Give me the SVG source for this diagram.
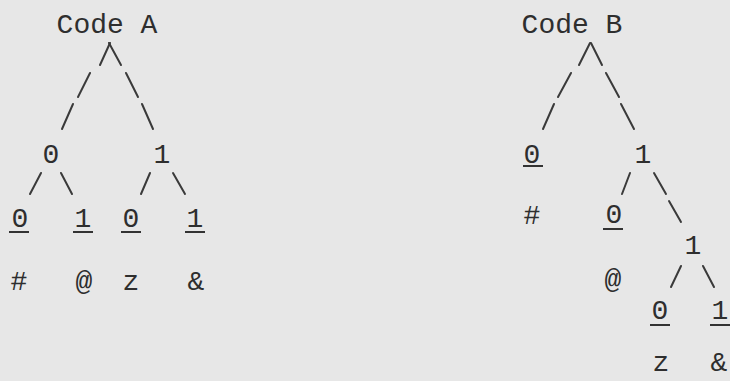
<svg xmlns="http://www.w3.org/2000/svg" width="730" height="381" viewBox="0 0 730 381">
<style>
text{font-family:"Liberation Mono","Courier New",monospace;font-size:28px;fill:#2e2e2e;text-anchor:middle}
.u{stroke:#333;stroke-width:2}
#connectors line{stroke:#3a3a3a;stroke-width:2;stroke-linecap:round}
</style>
<rect width="730" height="381" fill="#e7e7e7"/>
<g id="connectors">
<line x1="110" y1="43" x2="100" y2="65"/><line x1="109" y1="43" x2="121" y2="65"/>
<line x1="90" y1="73" x2="78" y2="97"/><line x1="126" y1="73" x2="138" y2="97"/>
<line x1="73" y1="104" x2="62" y2="129"/><line x1="142" y1="104" x2="153" y2="129"/>
<line x1="41" y1="173" x2="30" y2="194"/><line x1="61" y1="173" x2="72" y2="194"/>
<line x1="150" y1="173" x2="141" y2="194"/><line x1="173" y1="173" x2="185" y2="194"/>
<line x1="590" y1="43" x2="579" y2="65"/><line x1="591" y1="43" x2="602" y2="65"/>
<line x1="571" y1="73" x2="558" y2="97"/><line x1="606" y1="73" x2="619" y2="97"/>
<line x1="554" y1="104" x2="543" y2="129"/><line x1="621" y1="104" x2="634" y2="129"/>
<line x1="630" y1="173" x2="622" y2="194"/><line x1="654" y1="173" x2="666" y2="194"/>
<line x1="669" y1="201" x2="681" y2="222"/>
<line x1="681" y1="266" x2="671" y2="287"/><line x1="703" y1="266" x2="714" y2="287"/>
</g>
<g id="codeA"><text x="107" y="33">Code A</text></g>
<g id="a0"><text x="51" y="163">0</text></g>
<g id="a1"><text x="162" y="163">1</text></g>
<g id="a00"><text x="20" y="227">0</text><line class="u" x1="9" y1="232" x2="29" y2="232"/></g>
<g id="a01"><text x="83" y="227">1</text><line class="u" x1="73" y1="232" x2="93" y2="232"/></g>
<g id="a10"><text x="131" y="227">0</text><line class="u" x1="121" y1="232" x2="141" y2="232"/></g>
<g id="a11"><text x="195" y="227">1</text><line class="u" x1="185" y1="232" x2="205" y2="232"/></g>
<g id="aSymbols"><text x="19" y="290">#</text><text x="84" y="290">@</text><text x="131" y="290">z</text><text x="196" y="290">&amp;</text></g>
<g id="codeB"><text x="572" y="33">Code B</text></g>
<g id="b0"><text x="532" y="163">0</text><line class="u" x1="523" y1="166" x2="543" y2="166"/><text x="532" y="224">#</text></g>
<g id="b1"><text x="643" y="163">1</text></g>
<g id="b10"><text x="614" y="223">0</text><line class="u" x1="603" y1="229" x2="623" y2="229"/><text x="613" y="288">@</text></g>
<g id="b11"><text x="693" y="254">1</text></g>
<g id="b110"><text x="660" y="319">0</text><line class="u" x1="650" y1="325" x2="670" y2="325"/><text x="661" y="371">z</text></g>
<g id="b111"><text x="720" y="319">1</text><line class="u" x1="710" y1="325" x2="730" y2="325"/><text x="719" y="371">&amp;</text></g>
</svg>
